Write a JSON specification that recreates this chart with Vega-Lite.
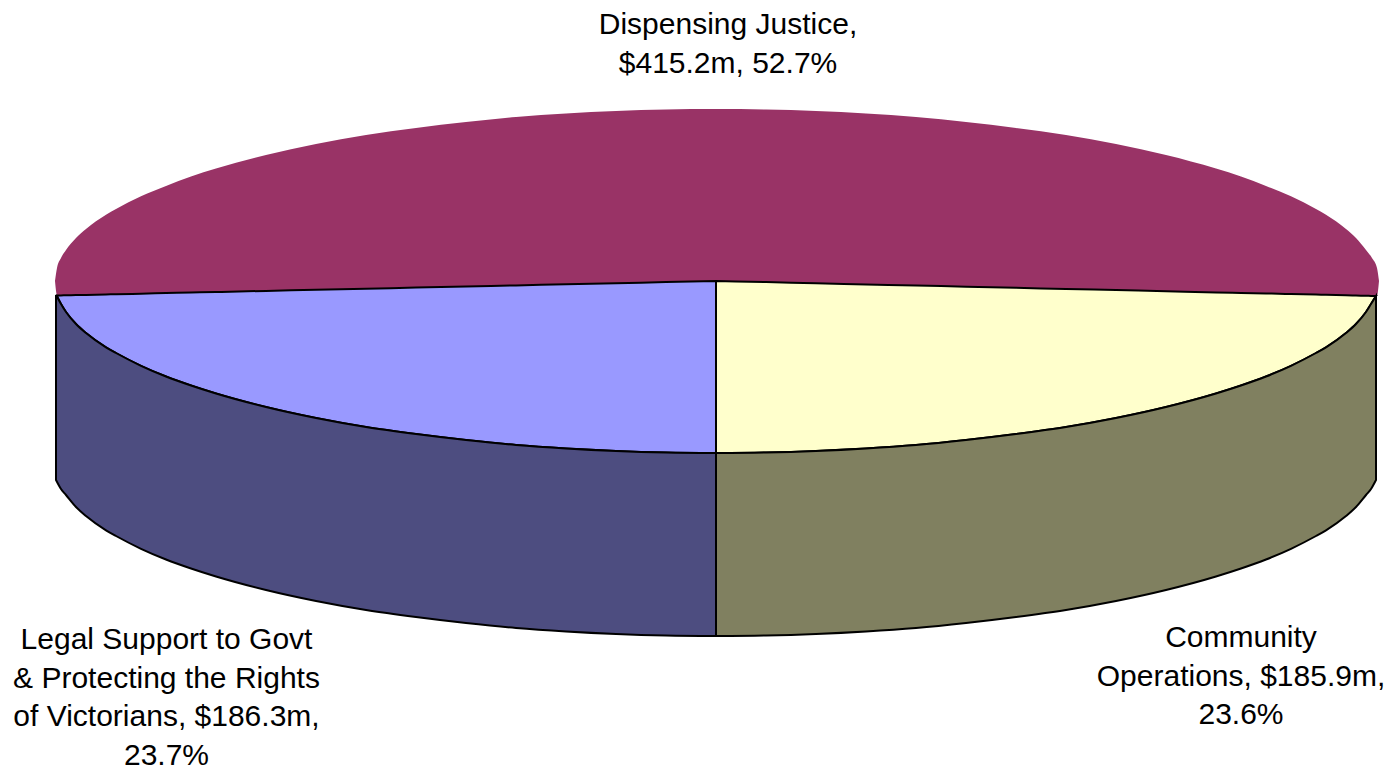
{"$schema":"https://vega.github.io/schema/vega-lite/v6.json","width":1389,"height":768,"padding":0,"autosize":{"type":"none"},"background":"white","config":{"view":{"stroke":null}},
"datasets":{
"top":[{"x":55,"y":281,"y2":281},{"x":57,"y":268,"y2":295},{"x":61,"y":258,"y2":296},{"x":66,"y":250,"y2":296},{"x":76,"y":238,"y2":295.5},{"x":86,"y":229,"y2":295},{"x":106,"y":214.7,"y2":294.5},{"x":116,"y":209,"y2":294.2},{"x":141,"y":196.2,"y2":293.7},{"x":166,"y":186,"y2":293.1},{"x":191,"y":176.5,"y2":292.5},{"x":216,"y":168.5,"y2":292},{"x":266,"y":155,"y2":290.9},{"x":316,"y":144,"y2":289.8},{"x":366,"y":135,"y2":288.7},{"x":416,"y":128,"y2":287.6},{"x":466,"y":122,"y2":286.5},{"x":516,"y":117,"y2":285.4},{"x":566,"y":113.5,"y2":284.3},{"x":616,"y":111,"y2":283.2},{"x":666,"y":109.5,"y2":282.1},{"x":716,"y":109,"y2":281},{"x":766,"y":109.5,"y2":282.1},{"x":816,"y":111,"y2":283.3},{"x":866,"y":113.5,"y2":284.4},{"x":916,"y":117,"y2":285.5},{"x":966,"y":122,"y2":286.7},{"x":1016,"y":128,"y2":287.8},{"x":1066,"y":135,"y2":289},{"x":1116,"y":144,"y2":290.1},{"x":1166,"y":155,"y2":291.2},{"x":1216,"y":168.5,"y2":292.4},{"x":1241,"y":176.5,"y2":292.9},{"x":1266,"y":186,"y2":293.5},{"x":1291,"y":196.2,"y2":294},{"x":1316,"y":209,"y2":294.6},{"x":1326,"y":214.7,"y2":294.8},{"x":1346,"y":229,"y2":295.3},{"x":1356,"y":238,"y2":295.5},{"x":1366,"y":250,"y2":295.8},{"x":1372,"y":258,"y2":296},{"x":1377,"y":268,"y2":296},{"x":1379,"y":281,"y2":281}],
"parts":[
{"part":"left face","x":57,"y":295.5,"y2":296},{"part":"left face","x":61,"y":295.4,"y2":304},{"part":"left face","x":66,"y":295.3,"y2":312},{"part":"left face","x":76,"y":295.1,"y2":324},{"part":"left face","x":86,"y":294.9,"y2":333},{"part":"left face","x":106,"y":294.4,"y2":347.3},{"part":"left face","x":116,"y":294.2,"y2":353},{"part":"left face","x":141,"y":293.7,"y2":365.8},{"part":"left face","x":166,"y":293.1,"y2":376.5},{"part":"left face","x":191,"y":292.5,"y2":385.5},{"part":"left face","x":216,"y":292,"y2":393.5},{"part":"left face","x":266,"y":290.9,"y2":407},{"part":"left face","x":316,"y":289.8,"y2":418},{"part":"left face","x":366,"y":288.7,"y2":427},{"part":"left face","x":416,"y":287.6,"y2":434},{"part":"left face","x":466,"y":286.5,"y2":440},{"part":"left face","x":516,"y":285.4,"y2":445},{"part":"left face","x":566,"y":284.3,"y2":448.5},{"part":"left face","x":616,"y":283.2,"y2":451},{"part":"left face","x":666,"y":282.1,"y2":452.5},{"part":"left face","x":716,"y":281,"y2":453},
{"part":"right face","x":716,"y":281,"y2":453},{"part":"right face","x":766,"y":282.1,"y2":452.5},{"part":"right face","x":816,"y":283.3,"y2":451},{"part":"right face","x":866,"y":284.4,"y2":448.5},{"part":"right face","x":916,"y":285.5,"y2":445},{"part":"right face","x":966,"y":286.7,"y2":440},{"part":"right face","x":1016,"y":287.8,"y2":434},{"part":"right face","x":1066,"y":289,"y2":427},{"part":"right face","x":1116,"y":290.1,"y2":418},{"part":"right face","x":1166,"y":291.2,"y2":407},{"part":"right face","x":1216,"y":292.4,"y2":393.5},{"part":"right face","x":1241,"y":292.9,"y2":385.5},{"part":"right face","x":1266,"y":293.5,"y2":376.5},{"part":"right face","x":1291,"y":294,"y2":365.8},{"part":"right face","x":1316,"y":294.6,"y2":353},{"part":"right face","x":1326,"y":294.8,"y2":347.3},{"part":"right face","x":1346,"y":295.3,"y2":333},{"part":"right face","x":1356,"y":295.5,"y2":324},{"part":"right face","x":1366,"y":295.8,"y2":312},{"part":"right face","x":1371,"y":295.9,"y2":304},{"part":"right face","x":1376,"y":296,"y2":296},
{"part":"left side","x":56,"y":295,"y2":480},{"part":"left side","x":61,"y":304,"y2":489},{"part":"left side","x":66,"y":312,"y2":495},{"part":"left side","x":76,"y":324,"y2":507},{"part":"left side","x":86,"y":333,"y2":516},{"part":"left side","x":106,"y":347.3,"y2":530.3},{"part":"left side","x":116,"y":353,"y2":536},{"part":"left side","x":141,"y":365.8,"y2":548.8},{"part":"left side","x":166,"y":376.5,"y2":559.5},{"part":"left side","x":191,"y":385.5,"y2":568.5},{"part":"left side","x":216,"y":393.5,"y2":576.5},{"part":"left side","x":266,"y":407,"y2":590},{"part":"left side","x":316,"y":418,"y2":601},{"part":"left side","x":366,"y":427,"y2":610},{"part":"left side","x":416,"y":434,"y2":617},{"part":"left side","x":466,"y":440,"y2":623},{"part":"left side","x":516,"y":445,"y2":628},{"part":"left side","x":566,"y":448.5,"y2":631.5},{"part":"left side","x":616,"y":451,"y2":634},{"part":"left side","x":666,"y":452.5,"y2":635.5},{"part":"left side","x":716,"y":453,"y2":636},
{"part":"right side","x":716,"y":453,"y2":636},{"part":"right side","x":766,"y":452.5,"y2":635.5},{"part":"right side","x":816,"y":451,"y2":634},{"part":"right side","x":866,"y":448.5,"y2":631.5},{"part":"right side","x":916,"y":445,"y2":628},{"part":"right side","x":966,"y":440,"y2":623},{"part":"right side","x":1016,"y":434,"y2":617},{"part":"right side","x":1066,"y":427,"y2":610},{"part":"right side","x":1116,"y":418,"y2":601},{"part":"right side","x":1166,"y":407,"y2":590},{"part":"right side","x":1216,"y":393.5,"y2":576.5},{"part":"right side","x":1241,"y":385.5,"y2":568.5},{"part":"right side","x":1266,"y":376.5,"y2":559.5},{"part":"right side","x":1291,"y":365.8,"y2":548.8},{"part":"right side","x":1316,"y":353,"y2":536},{"part":"right side","x":1326,"y":347.3,"y2":530.3},{"part":"right side","x":1346,"y":333,"y2":516},{"part":"right side","x":1356,"y":324,"y2":507},{"part":"right side","x":1366,"y":312,"y2":495},{"part":"right side","x":1371,"y":304,"y2":489},{"part":"right side","x":1376,"y":296,"y2":480}
],
"labels":[{"x":728,"y":34,"label":"Dispensing Justice,\n$415.2m, 52.7%"},{"x":166.5,"y":649,"label":"Legal Support to Govt\n& Protecting the Rights\nof Victorians, $186.3m,\n23.7%"},{"x":1241,"y":647,"label":"Community\nOperations, $185.9m,\n23.6%"}]},
"layer":[
{"data":{"name":"top"},"mark":{"type":"area","interpolate":"monotone","color":"#993366"},"encoding":{"x":{"field":"x","type":"quantitative","scale":{"domain":[0,1389]},"axis":null},"y":{"field":"y","type":"quantitative","scale":{"domain":[768,0]},"axis":null},"y2":{"field":"y2"}}},
{"data":{"name":"parts"},"mark":{"type":"area","interpolate":"monotone","stroke":"black","strokeWidth":2},"encoding":{"x":{"field":"x","type":"quantitative","scale":{"domain":[0,1389]},"axis":null},"y":{"field":"y","type":"quantitative","scale":{"domain":[768,0]},"axis":null},"y2":{"field":"y2"},"fill":{"field":"part","type":"nominal","legend":null,"scale":{"domain":["left face","right face","left side","right side"],"range":["#9999FF","#FFFFCC","#4D4D80","#808060"]}}}},
{"data":{"name":"labels"},"mark":{"type":"text","font":"Liberation Sans","fontSize":30,"align":"center","baseline":"alphabetic","lineBreak":"\n","lineHeight":38.7,"color":"black"},"encoding":{"x":{"field":"x","type":"quantitative","scale":{"domain":[0,1389]},"axis":null},"y":{"field":"y","type":"quantitative","scale":{"domain":[768,0]},"axis":null},"text":{"field":"label"}}}
]}
